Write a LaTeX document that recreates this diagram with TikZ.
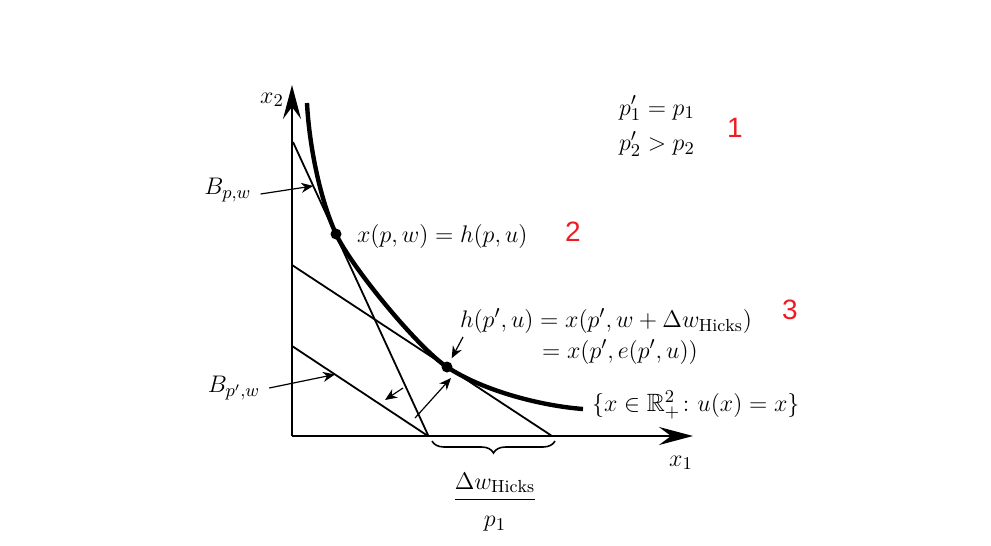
\documentclass[tikz,border=0pt]{standalone}
\usepackage{amsmath, amssymb}
\usepackage{fontspec}
\newfontfamily\tagfont{Liberation Sans}
\usepackage{tikz}
\usetikzlibrary{
  arrows.meta,
  decorations.pathreplacing,
  calc,
  positioning
}
\definecolor{tagred}{RGB}{237,28,36}
\tikzset{>={Stealth[length=6pt, width=5pt]}}
\tikzset{font=\fontsize{12.5}{15}\selectfont}
\tikzset{
  axis/.style={line width=1pt, -{Stealth[length=17pt, width=9pt, inset=6pt]}},
  budget/.style={line width=0.9pt},
  indiff/.style={line width=2.2pt},
  pointer/.style={line width=0.6pt, ->},
  bundle/.style={circle, fill=black, inner sep=0pt, minimum size=5.5pt},
  tag/.style={text=tagred, font=\tagfont\fontsize{14}{16}\selectfont}
}

\begin{document}
\begin{tikzpicture}[x=0.5pt, y=-0.5pt]
  \useasboundingbox (0,0) rectangle (991,546);
  % axes
  \coordinate (O) at (292,436);
  \coordinate (xend) at (693,436);
  \coordinate (yend) at (292,85);
  \draw[axis] (O) -- (xend);
  \draw[axis] (O) -- (yend);
  \node (xlab) at (681,463) {$x_1$};
  \node (ylab) at (272,100) {$x_2$};
  % budget lines
  \coordinate (bpwtop) at (293,142);
  \coordinate (bpwbot) at (428,435);
  \coordinate (comptop) at (292,265);
  \coordinate (compbot) at (552,436);
  \coordinate (bnewtop) at (292,346);
  \coordinate (bnewbot) at (428,436);
  \draw[budget] (bpwtop) -- (bpwbot);
  \draw[budget] (comptop) -- (compbot);
  \draw[budget] (bnewtop) -- (bnewbot);
  % indifference curve
  \node[bundle] (xpw) at (336,234) {};
  \node[bundle] (hpu) at (447,367) {};
  \draw[indiff] (307,103) .. controls (309,143) and (319.3,197.7) .. (xpw.center)
    .. controls (350.6,265.8) and (417.8,347.8) .. (hpu.center)
    .. controls (484.6,391.7) and (543,406) .. (583,409);
  % labels
  \node[anchor=west] (xpwlab) at (350,236) {$x(p, w) = h(p, u)$};
  \node[anchor=west] (hpulab) at (453,321) {$h(p', u) = x(p', w + \Delta w_{\mathrm{Hicks}})$};
  \node[anchor=west] (hpulab2) at (535,352) {$= x(p', e(p', u))$};
  \node[anchor=west] (setlab) at (585,405) {$\{x \in \mathbb{R}^2_+\colon u(x) = x\}$};
  \node[anchor=west] (prices) at (612,127) {$\begin{aligned} p'_1 &= p_1\\ p'_2 &> p_2\end{aligned}$};
  \node (bpwlab) at (228,190) {$B_{p,w}$};
  \node (bnewlab) at (234,388) {$B_{p',w}$};
  % pointers
  \coordinate (bpwpt) at ($(bpwtop)!0.15!(bpwbot)$);
  \coordinate (bnewpt) at ($(bnewtop)!0.316!(bnewbot)$);
  \draw[pointer] (bpwlab.east) ++(2,4) coordinate (bpwtail) -- (bpwpt);
  \draw[pointer] (bnewlab.east) ++(2,0) coordinate (bnewtail) -- (bnewpt);
  \coordinate (hptr) at (463,337);
  \draw[pointer, shorten >=2pt] (hptr) -- (hpu);
  \coordinate (rotfrom) at (403,388);
  \coordinate (rotto) at (385,400);
  \draw[pointer] (rotfrom) -- (rotto);
  \coordinate (shiftfrom) at (415,418);
  \coordinate (shiftto) at (451,378);
  \draw[pointer] (shiftfrom) -- (shiftto);
  % compensation brace
  \coordinate (bracel) at (432,441);
  \coordinate (bracer) at (555,441);
  \draw[line width=0.8pt, decorate, decoration={brace, amplitude=6pt, mirror}] (bracel) -- (bracer);
  \node (dw) at (495,502) {$\dfrac{\Delta w_{\mathrm{Hicks}}}{\rule{0pt}{12pt}p_1}$};
  % red tags
  \node[tag] (tag1) at (735,128) {1};
  \node[tag] (tag2) at (573,232) {2};
  \node[tag] (tag3) at (790,310) {3};
\end{tikzpicture}
\end{document}
